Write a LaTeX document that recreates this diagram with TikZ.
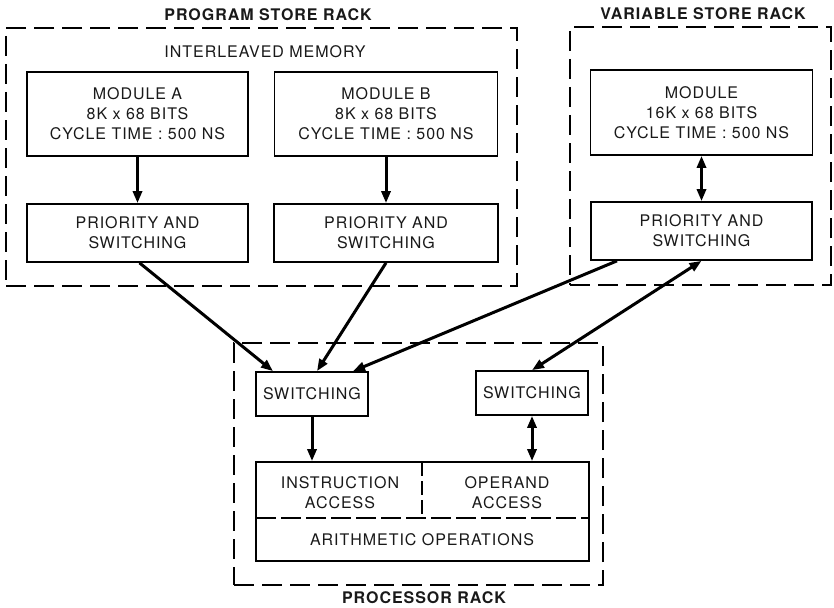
\documentclass[tikz,border=0pt]{standalone}
\usepackage{fontspec}
\setmainfont{TeX Gyre Heros}[LetterSpace=6]
\usetikzlibrary{arrows.meta,calc}
\begin{document}
\begin{tikzpicture}[x=1pt,y=-1pt,
  every node/.style={font=\fontsize{16}{20}\selectfont, text=black!90},
  box/.style={draw, line width=1.7pt, inner sep=0pt, align=center},
  rack/.style={draw, line width=1.6pt, dash pattern=on 20pt off 8pt, inner sep=0pt},
  arr/.style={line width=3pt, -{Triangle[length=12pt,width=9pt]}},
  darr/.style={line width=3pt, {Triangle[length=12pt,width=9pt]}-{Triangle[length=12pt,width=9pt]}},
  racklabel/.style={font=\fontsize{16}{20}\selectfont\bfseries}
]
\useasboundingbox (0,0) rectangle (834,607);

% racks
\node[rack, minimum width=511pt, minimum height=258pt] (prack) at (261.5,157) {};
\node[rack, minimum width=261pt, minimum height=258pt] (vrack) at (700.5,156) {};
\node[rack, minimum width=369pt, minimum height=242pt] (crack) at (418.5,464) {};

\node[racklabel] (plabel) at (268,15) {PROGRAM STORE RACK};
\node[racklabel] (vlabel) at (703,14) {VARIABLE STORE RACK};
\node[racklabel] (clabel) at (424,598) {PROCESSOR RACK};

\node (ilabel) at (265,52) {INTERLEAVED MEMORY};

% program store
\node[box, minimum width=221pt, minimum height=84pt] (modA) at (137.5,114) {MODULE A\\8K x 68 BITS\\CYCLE TIME : 500 NS};
\node[box, minimum width=223pt, minimum height=84pt] (modB) at (386,114) {MODULE B\\8K x 68 BITS\\CYCLE TIME : 500 NS};
\node[box, minimum width=221pt, minimum height=58pt] (prioA) at (137.5,233) {PRIORITY AND\\SWITCHING};
\node[box, minimum width=224pt, minimum height=58pt] (prioB) at (386,233) {PRIORITY AND\\SWITCHING};

% variable store
\node[box, minimum width=222pt, minimum height=85pt] (modV) at (701.5,112.5) {MODULE\\16K x 68 BITS\\CYCLE TIME : 500 NS};
\node[box, minimum width=221pt, minimum height=58pt] (prioV) at (701.5,231) {PRIORITY AND\\SWITCHING};

% processor
\node[box, minimum width=112pt, minimum height=44pt] (swL) at (312,394) {SWITCHING};
\node[box, minimum width=112pt, minimum height=44pt] (swR) at (532,393) {SWITCHING};
\node[box, minimum width=333pt, minimum height=99pt] (alu) at (422.5,511.5) {};
\coordinate (dl) at (256,518);
\coordinate (dr) at (589,518);
\coordinate (dt) at (422,462);
\coordinate (db) at (422,518);
\draw[line width=1.5pt, dash pattern=on 20pt off 5pt] (dl) -- (dr);
\draw[line width=1.5pt, dash pattern=on 14pt off 5pt] (dt) -- (db);
\node[align=center] (instr) at (340,493) {INSTRUCTION\\ACCESS};
\node[align=center] (oper) at (507,493) {OPERAND\\ACCESS};
\node (arith) at (422,540) {ARITHMETIC OPERATIONS};

% connectors
\draw[arr] (modA) -- (prioA);
\draw[arr] (modB) -- (prioB);
\draw[darr] (modV) -- (prioV);
\draw[arr] ([xshift=2pt]prioA.south) -- ([xshift=-39pt]swL.north);
\draw[arr] (prioB.south) -- ([xshift=5pt]swL.north);
\draw[arr] ([xshift=-84.5pt]prioV.south) -- ([xshift=41pt]swL.north);
\draw[darr] (prioV.south) -- (swR.north);
\draw[arr] (swL.south) -- (swL.south |- alu.north);
\draw[darr] (swR.south) -- (swR.south |- alu.north);
\end{tikzpicture}
\end{document}
